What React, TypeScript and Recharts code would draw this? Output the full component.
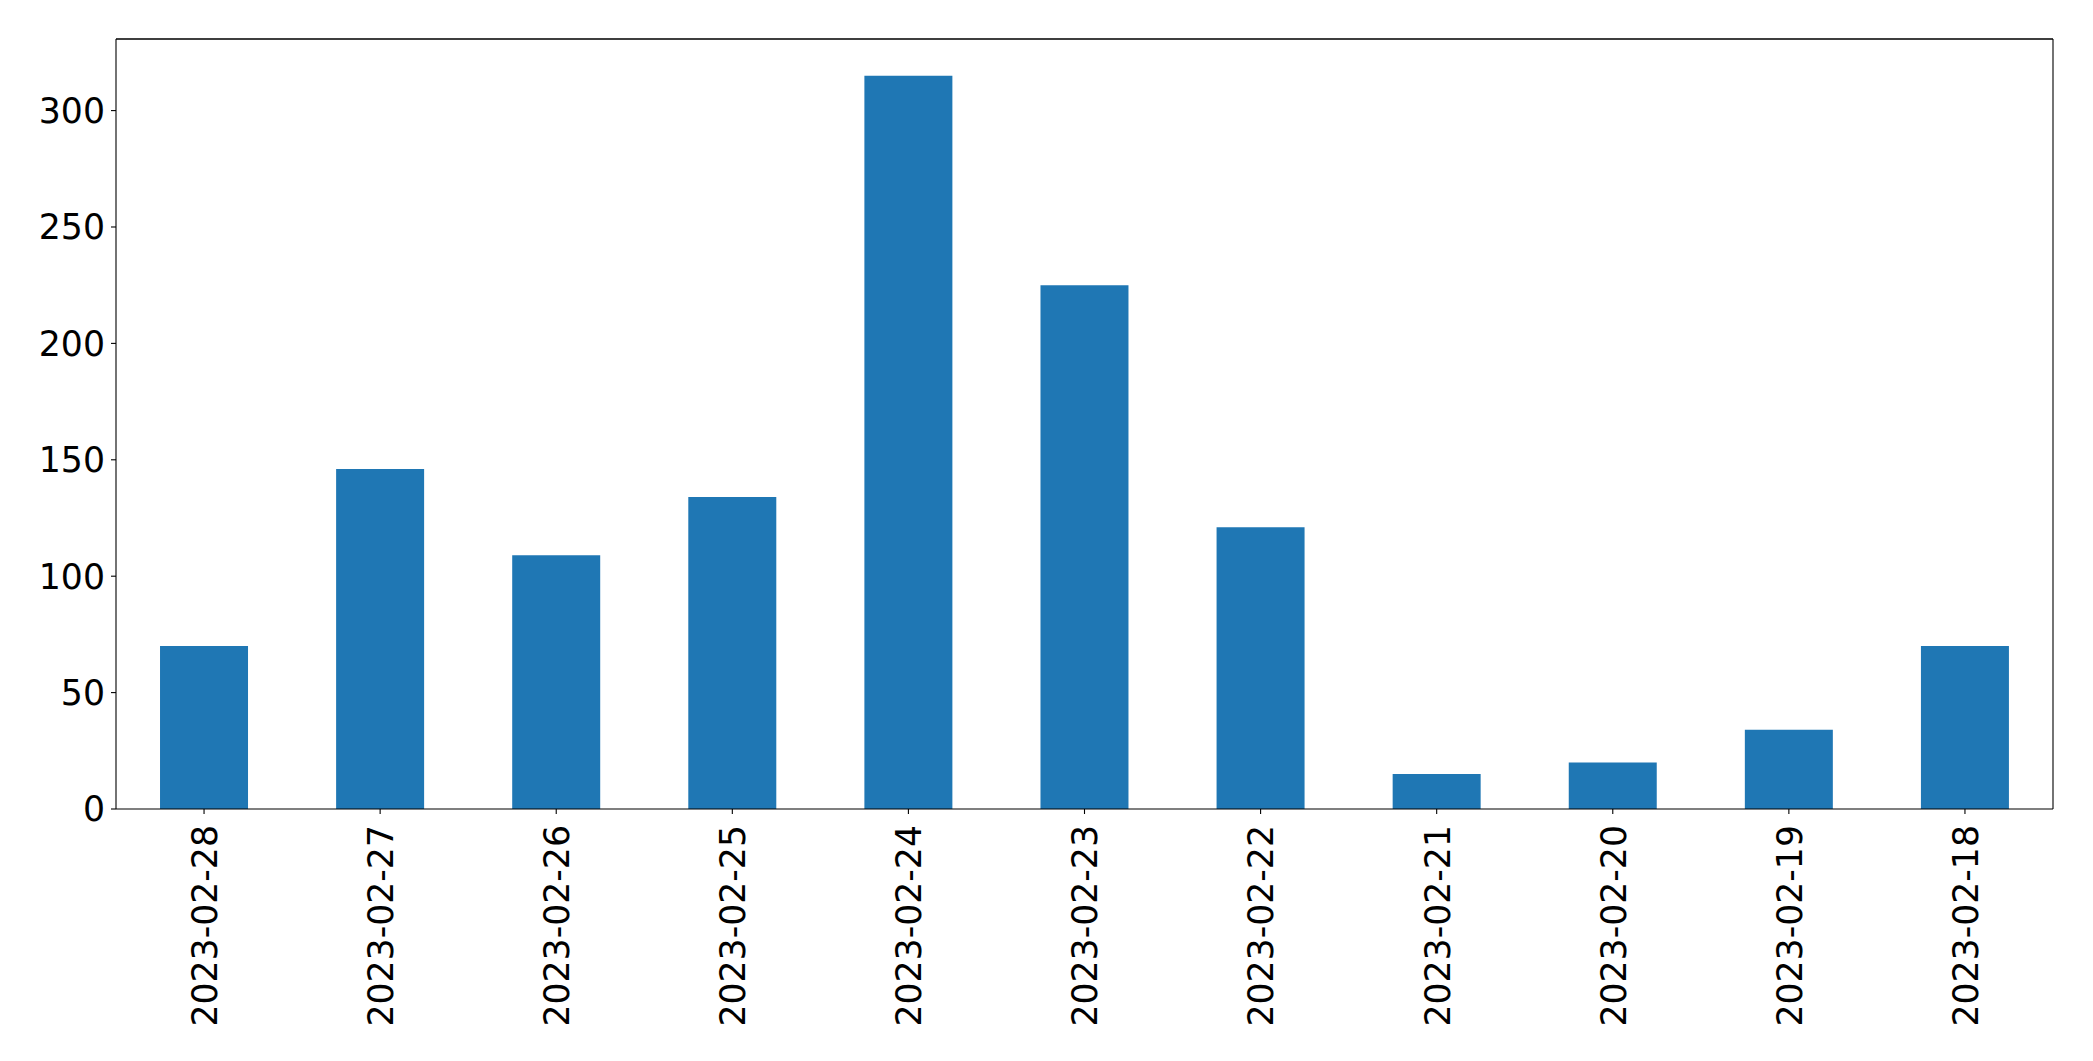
import { BarChart, Bar, XAxis, YAxis, ReferenceLine } from 'recharts'

const DATES = [
  '2023-02-28',
  '2023-02-27',
  '2023-02-26',
  '2023-02-25',
  '2023-02-24',
  '2023-02-23',
  '2023-02-22',
  '2023-02-21',
  '2023-02-20',
  '2023-02-19',
  '2023-02-18',
]

const COUNTS = [70, 146, 109, 134, 315, 225, 121, 15, 20, 34, 70]

const Y_TICKS = [0, 50, 100, 150, 200, 250, 300]

const BAR_COLOR = '#1f77b4'
const FONT = '"DejaVu Sans", sans-serif'
const FONT_SIZE = 34.7

const rows = DATES.map((date, i) => ({ date, count: COUNTS[i] }))
const yMax = Math.max(...COUNTS) * 1.05

function DateTick(props: { x?: number; y?: number; payload?: { value: string } }) {
  const { x = 0, y = 0, payload } = props
  return (
    <g transform={`translate(${x},${y})`}>
      <text
        transform="rotate(-90)"
        x={0}
        y={0}
        dy="0.37em"
        textAnchor="end"
        fill="#000"
        fontFamily={FONT}
        fontSize={FONT_SIZE}
      >
        {payload?.value}
      </text>
    </g>
  )
}

export default function App() {
  const axisLine = { stroke: '#000', strokeWidth: 1.1 }
  return (
    <div style={{ position: 'absolute', left: 0, top: 0, background: '#fff' }}>
      <BarChart
        width={2093}
        height={1061}
        data={rows}
        margin={{ top: 38, right: 39, bottom: 0, left: 0 }}
        barCategoryGap="25%"
      >
        <XAxis
          dataKey="date"
          height={252}
          axisLine={axisLine}
          tickLine={axisLine}
          tickSize={5}
          tickMargin={11}
          tick={<DateTick />}
          interval={0}
        />
        <XAxis
          xAxisId="top"
          orientation="top"
          dataKey="date"
          height={1}
          axisLine={axisLine}
          tickLine={false}
          tick={false}
        />
        <YAxis
          type="number"
          domain={[0, yMax]}
          ticks={Y_TICKS}
          width={116}
          axisLine={axisLine}
          tickLine={axisLine}
          tickSize={5}
          tickMargin={6}
          tick={{ fill: '#000', fontFamily: FONT, fontSize: FONT_SIZE }}
          allowDataOverflow
        />
        <YAxis
          yAxisId="right"
          orientation="right"
          type="number"
          domain={[0, yMax]}
          width={1}
          axisLine={axisLine}
          tickLine={false}
          tick={false}
        />
        <ReferenceLine y={yMax} stroke="#000" strokeWidth={1.1} ifOverflow="visible" />
        <Bar dataKey="count" fill={BAR_COLOR} isAnimationActive={false} />
      </BarChart>
    </div>
  )
}
